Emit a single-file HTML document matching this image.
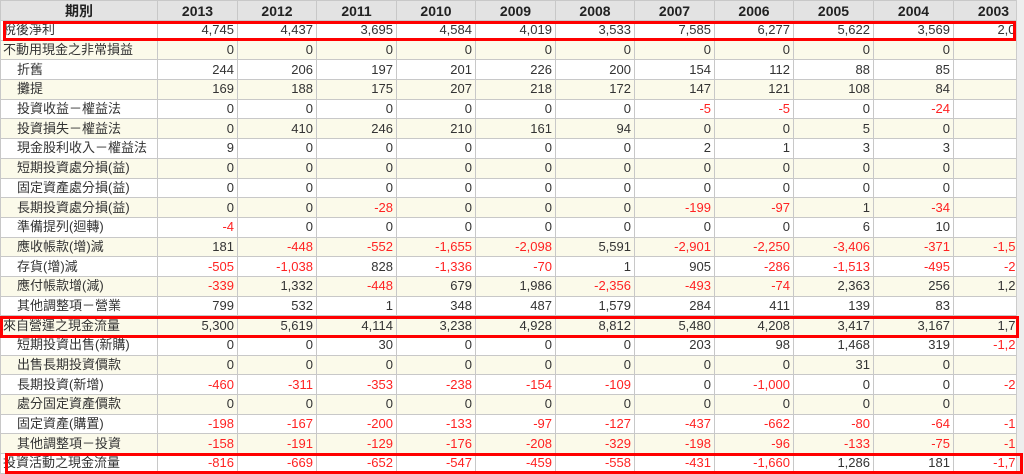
<!DOCTYPE html>
<html><head><meta charset="utf-8"><style>
body{margin:0;width:1024px;height:474px;overflow:hidden;background:#fff;font-family:"Liberation Sans","Noto Sans CJK TC",sans-serif;}
#wrap{position:absolute;left:0;top:0;width:1016px;height:474px;overflow:hidden;}
#sb{position:absolute;left:1016px;top:0;width:8px;height:474px;background:#eee;border-left:1px solid #ccc;}
table{border-collapse:collapse;table-layout:fixed;width:1033px;font-size:13px;color:#333;}
td,th{border:1px solid #c8c8c8;padding:0 3px;height:18.7px;line-height:18px;white-space:nowrap;overflow:hidden;}
th{background:#e3e3e3;font-weight:bold;color:#222;height:19px;font-size:14px;}
td{text-align:right;}
td.l{text-align:left;padding-left:2px;}
td.i{padding-left:16px;}
tr:nth-child(odd) td{background:#fbfaea;}
.n{color:#f22;}
.box{position:absolute;border:3px solid #f00;box-sizing:border-box;}
</style></head><body>
<div id="wrap"><table>
<colgroup><col style="width:157px"><col style="width:80px"><col style="width:79px"><col style="width:80px"><col style="width:79px"><col style="width:80px"><col style="width:79px"><col style="width:80px"><col style="width:79px"><col style="width:80px"><col style="width:80px"><col style="width:80px"></colgroup>
<tr><th>期別</th><th>2013</th><th>2012</th><th>2011</th><th>2010</th><th>2009</th><th>2008</th><th>2007</th><th>2006</th><th>2005</th><th>2004</th><th>2003</th></tr>
<tr><td class="l">稅後淨利</td><td>4,745</td><td>4,437</td><td>3,695</td><td>4,584</td><td>4,019</td><td>3,533</td><td>7,585</td><td>6,277</td><td>5,622</td><td>3,569</td><td>2,000</td></tr>
<tr><td class="l">不動用現金之非常損益</td><td>0</td><td>0</td><td>0</td><td>0</td><td>0</td><td>0</td><td>0</td><td>0</td><td>0</td><td>0</td><td>0</td></tr>
<tr><td class="l i">折舊</td><td>244</td><td>206</td><td>197</td><td>201</td><td>226</td><td>200</td><td>154</td><td>112</td><td>88</td><td>85</td><td>0</td></tr>
<tr><td class="l i">攤提</td><td>169</td><td>188</td><td>175</td><td>207</td><td>218</td><td>172</td><td>147</td><td>121</td><td>108</td><td>84</td><td>0</td></tr>
<tr><td class="l i">投資收益－權益法</td><td>0</td><td>0</td><td>0</td><td>0</td><td>0</td><td>0</td><td class="n">-5</td><td class="n">-5</td><td>0</td><td class="n">-24</td><td>0</td></tr>
<tr><td class="l i">投資損失－權益法</td><td>0</td><td>410</td><td>246</td><td>210</td><td>161</td><td>94</td><td>0</td><td>0</td><td>5</td><td>0</td><td>0</td></tr>
<tr><td class="l i">現金股利收入－權益法</td><td>9</td><td>0</td><td>0</td><td>0</td><td>0</td><td>0</td><td>2</td><td>1</td><td>3</td><td>3</td><td>0</td></tr>
<tr><td class="l i">短期投資處分損(益)</td><td>0</td><td>0</td><td>0</td><td>0</td><td>0</td><td>0</td><td>0</td><td>0</td><td>0</td><td>0</td><td>0</td></tr>
<tr><td class="l i">固定資產處分損(益)</td><td>0</td><td>0</td><td>0</td><td>0</td><td>0</td><td>0</td><td>0</td><td>0</td><td>0</td><td>0</td><td>0</td></tr>
<tr><td class="l i">長期投資處分損(益)</td><td>0</td><td>0</td><td class="n">-28</td><td>0</td><td>0</td><td>0</td><td class="n">-199</td><td class="n">-97</td><td>1</td><td class="n">-34</td><td>0</td></tr>
<tr><td class="l i">準備提列(迴轉)</td><td class="n">-4</td><td>0</td><td>0</td><td>0</td><td>0</td><td>0</td><td>0</td><td>0</td><td>6</td><td>10</td><td>0</td></tr>
<tr><td class="l i">應收帳款(增)減</td><td>181</td><td class="n">-448</td><td class="n">-552</td><td class="n">-1,655</td><td class="n">-2,098</td><td>5,591</td><td class="n">-2,901</td><td class="n">-2,250</td><td class="n">-3,406</td><td class="n">-371</td><td class="n">-1,500</td></tr>
<tr><td class="l i">存貨(增)減</td><td class="n">-505</td><td class="n">-1,038</td><td>828</td><td class="n">-1,336</td><td class="n">-70</td><td>1</td><td>905</td><td class="n">-286</td><td class="n">-1,513</td><td class="n">-495</td><td class="n">-200</td></tr>
<tr><td class="l i">應付帳款增(減)</td><td class="n">-339</td><td>1,332</td><td class="n">-448</td><td>679</td><td>1,986</td><td class="n">-2,356</td><td class="n">-493</td><td class="n">-74</td><td>2,363</td><td>256</td><td>1,200</td></tr>
<tr><td class="l i">其他調整項－營業</td><td>799</td><td>532</td><td>1</td><td>348</td><td>487</td><td>1,579</td><td>284</td><td>411</td><td>139</td><td>83</td><td>0</td></tr>
<tr><td class="l">來自營運之現金流量</td><td>5,300</td><td>5,619</td><td>4,114</td><td>3,238</td><td>4,928</td><td>8,812</td><td>5,480</td><td>4,208</td><td>3,417</td><td>3,167</td><td>1,700</td></tr>
<tr><td class="l i">短期投資出售(新購)</td><td>0</td><td>0</td><td>30</td><td>0</td><td>0</td><td>0</td><td>203</td><td>98</td><td>1,468</td><td>319</td><td class="n">-1,200</td></tr>
<tr><td class="l i">出售長期投資價款</td><td>0</td><td>0</td><td>0</td><td>0</td><td>0</td><td>0</td><td>0</td><td>0</td><td>31</td><td>0</td><td>0</td></tr>
<tr><td class="l i">長期投資(新增)</td><td class="n">-460</td><td class="n">-311</td><td class="n">-353</td><td class="n">-238</td><td class="n">-154</td><td class="n">-109</td><td>0</td><td class="n">-1,000</td><td>0</td><td>0</td><td class="n">-200</td></tr>
<tr><td class="l i">處分固定資產價款</td><td>0</td><td>0</td><td>0</td><td>0</td><td>0</td><td>0</td><td>0</td><td>0</td><td>0</td><td>0</td><td>0</td></tr>
<tr><td class="l i">固定資產(購置)</td><td class="n">-198</td><td class="n">-167</td><td class="n">-200</td><td class="n">-133</td><td class="n">-97</td><td class="n">-127</td><td class="n">-437</td><td class="n">-662</td><td class="n">-80</td><td class="n">-64</td><td class="n">-100</td></tr>
<tr><td class="l i">其他調整項－投資</td><td class="n">-158</td><td class="n">-191</td><td class="n">-129</td><td class="n">-176</td><td class="n">-208</td><td class="n">-329</td><td class="n">-198</td><td class="n">-96</td><td class="n">-133</td><td class="n">-75</td><td class="n">-100</td></tr>
<tr><td class="l">投資活動之現金流量</td><td class="n">-816</td><td class="n">-669</td><td class="n">-652</td><td class="n">-547</td><td class="n">-459</td><td class="n">-558</td><td class="n">-431</td><td class="n">-1,660</td><td>1,286</td><td>181</td><td class="n">-1,700</td></tr>
</table></div>
<div id="sb"></div>
<div class="box" style="left:3px;top:21px;width:1013px;height:20px"></div>
<div class="box" style="left:0;top:316px;width:1019px;height:22px"></div>
<div class="box" style="left:5px;top:453px;width:1018px;height:21px"></div>
</body></html>
